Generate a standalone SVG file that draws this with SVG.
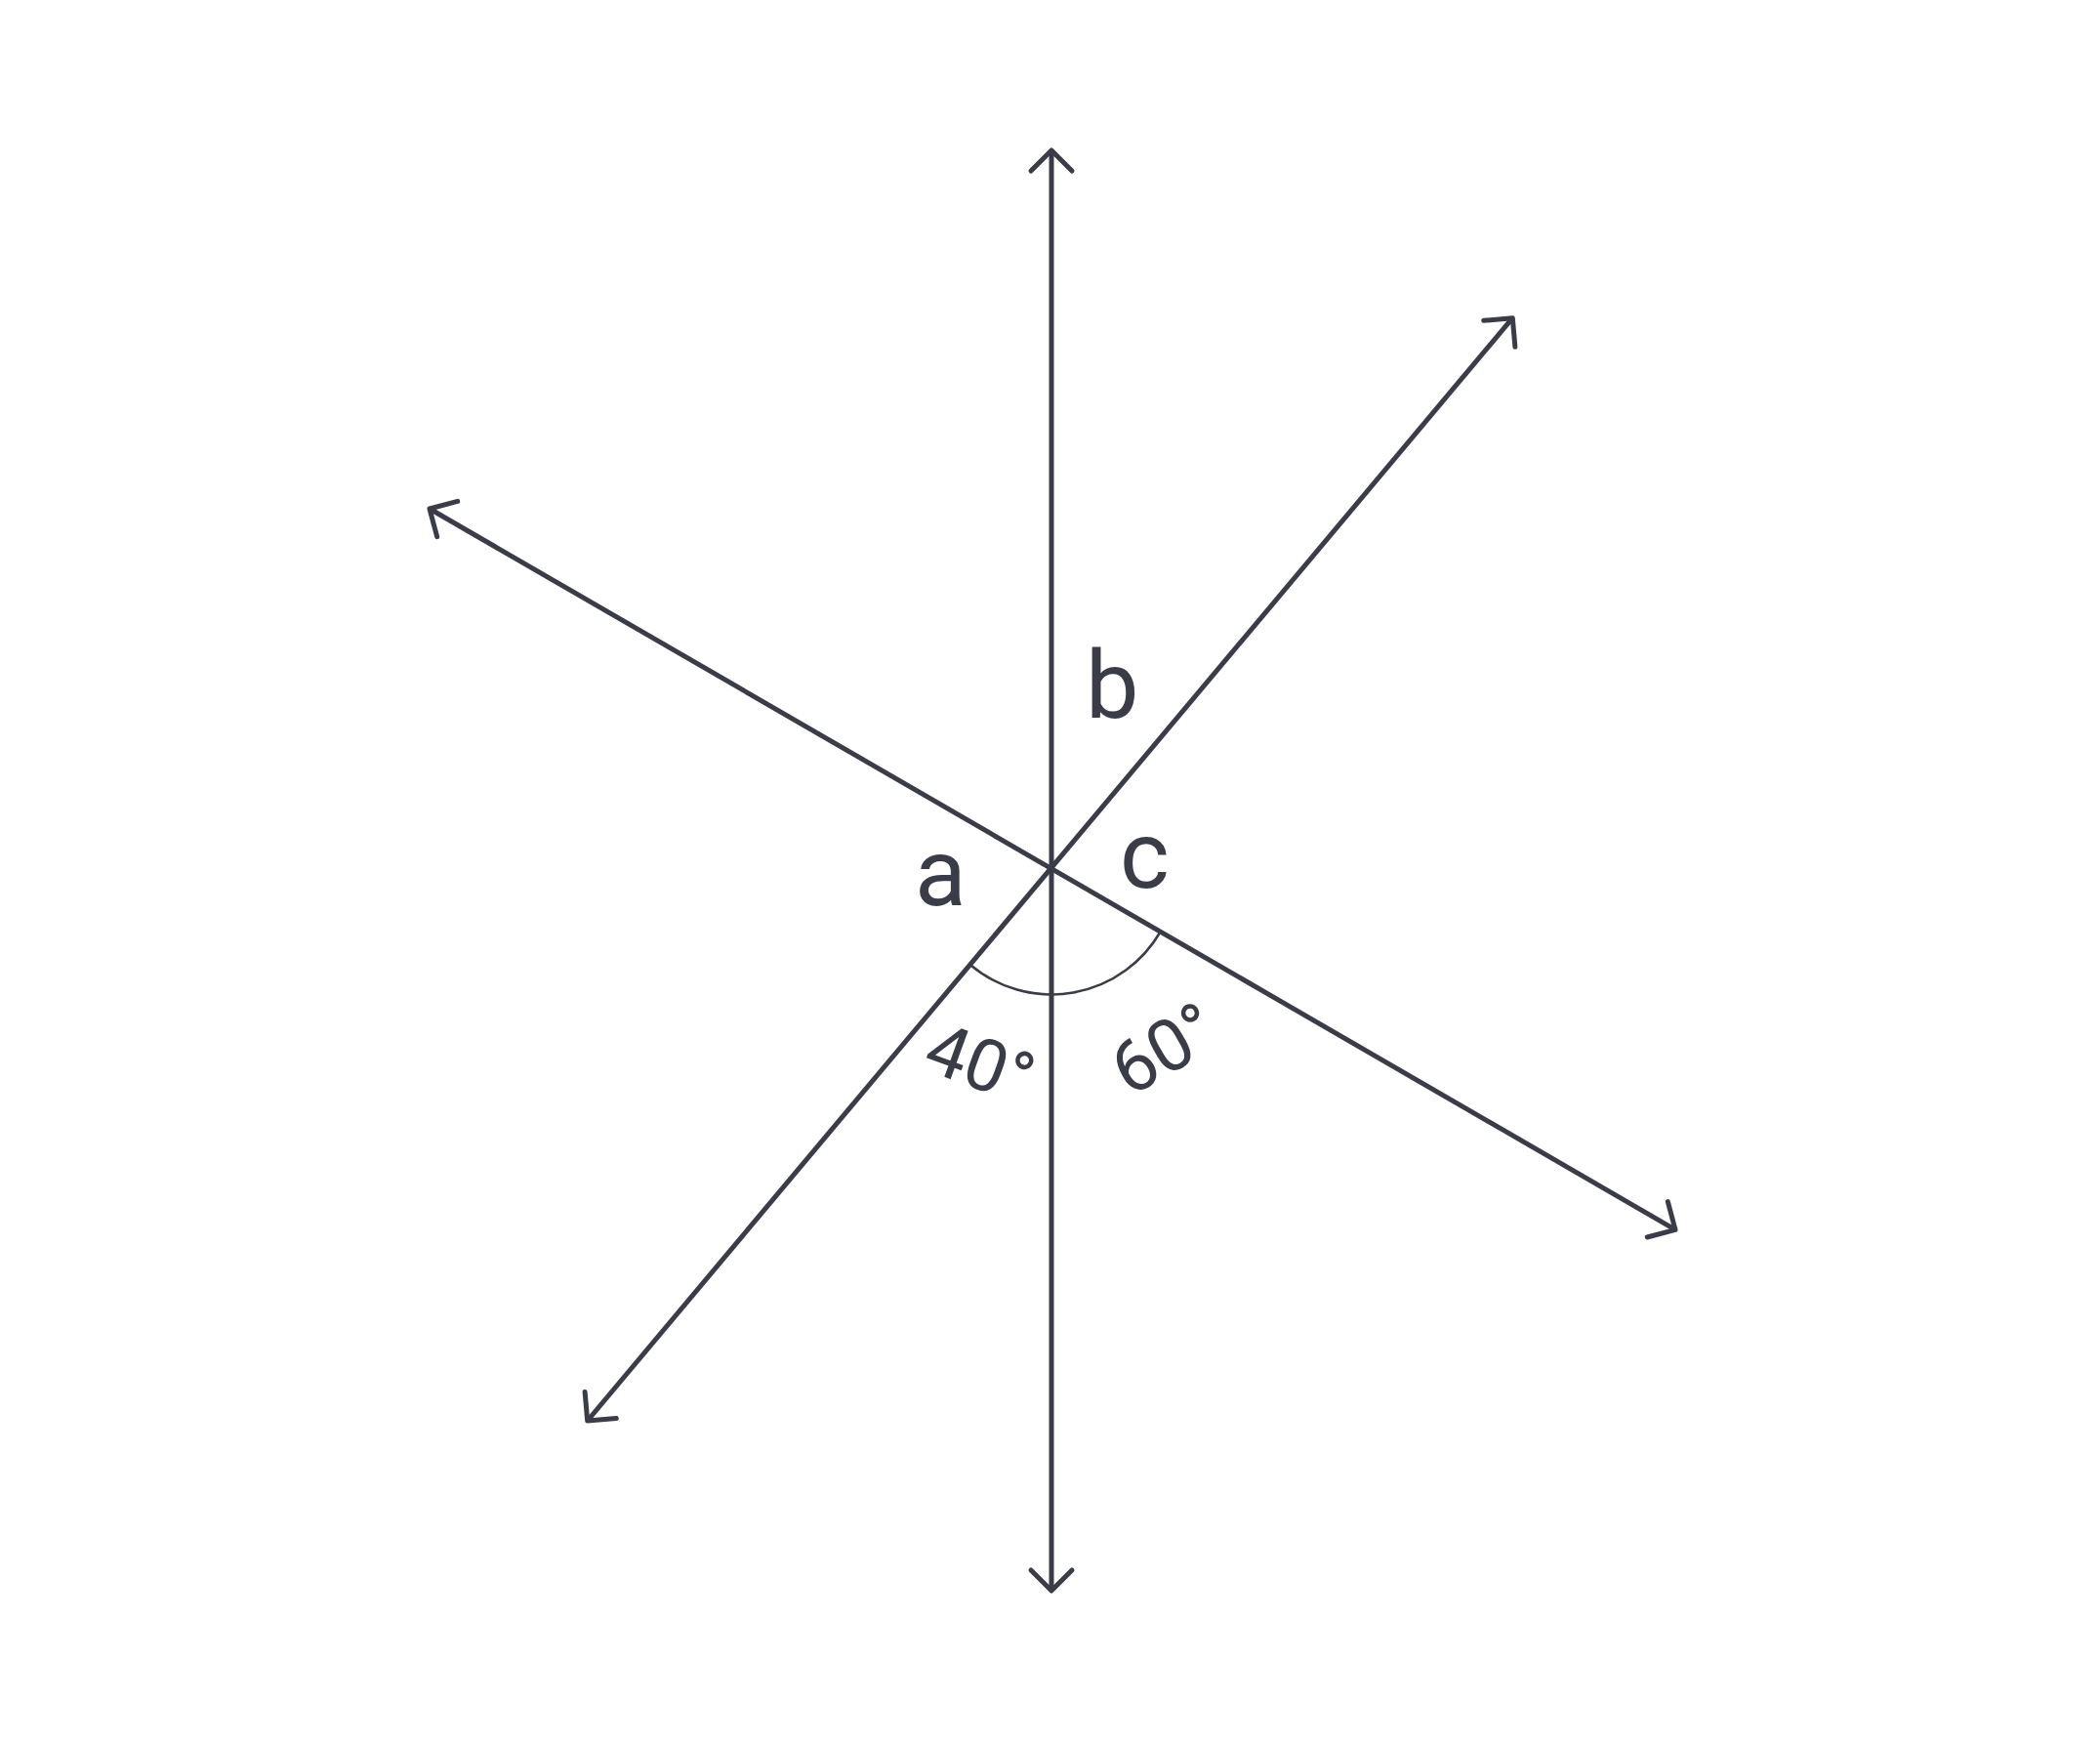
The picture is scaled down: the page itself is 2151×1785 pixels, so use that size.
<svg xmlns="http://www.w3.org/2000/svg" width="2151" height="1785" viewBox="0 0 2151 1785">
  <style>
    .ln { stroke: #3a3d48; stroke-width: 5; fill: none; marker-start: url(#arr); marker-end: url(#arr); }
    .arc { stroke: #3a3d48; stroke-width: 2.5; fill: none; }
    .lbl { font-family: Roboto, "Liberation Sans", sans-serif; fill: #3a3d48; }
    .big { font-size: 97px; }
    .deg { font-size: 74px; }
  </style>
  <defs>
    <marker id="arr" viewBox="-30 -30 60 60" markerWidth="60" markerHeight="60" markerUnits="userSpaceOnUse" refX="0" refY="0" orient="auto-start-reverse">
      <path d="M -21 -21 L 0 0 L -21 21" stroke="#3a3d48" stroke-width="5" fill="none" stroke-linecap="round" stroke-linejoin="round"/>
    </marker>
  </defs>
  <rect width="2151" height="1785" fill="#ffffff"/>
  <g id="connectors">
    <line class="ln" x1="1077" y1="154" x2="1077" y2="1629"/>
    <line class="ln" x1="1549.3" y1="325.7" x2="601.7" y2="1455"/>
    <line class="ln" x1="440" y1="521" x2="1716" y2="1259.3"/>
    <path class="arc" d="M 994.1 988.3 A 129 129 0 0 0 1188.7 954"/>
  </g>
  <g id="label-a"><text class="lbl big" x="937" y="927">a</text></g>
  <g id="label-b"><text class="lbl big" x="1112" y="735">b</text></g>
  <g id="label-c"><text class="lbl big" x="1147" y="909">c</text></g>
  <g id="label-40"><text class="lbl deg" transform="translate(943 1094) rotate(20)">40°</text></g>
  <g id="label-60"><text class="lbl deg" transform="translate(1157 1124) rotate(-30)">60°</text></g>
</svg>
